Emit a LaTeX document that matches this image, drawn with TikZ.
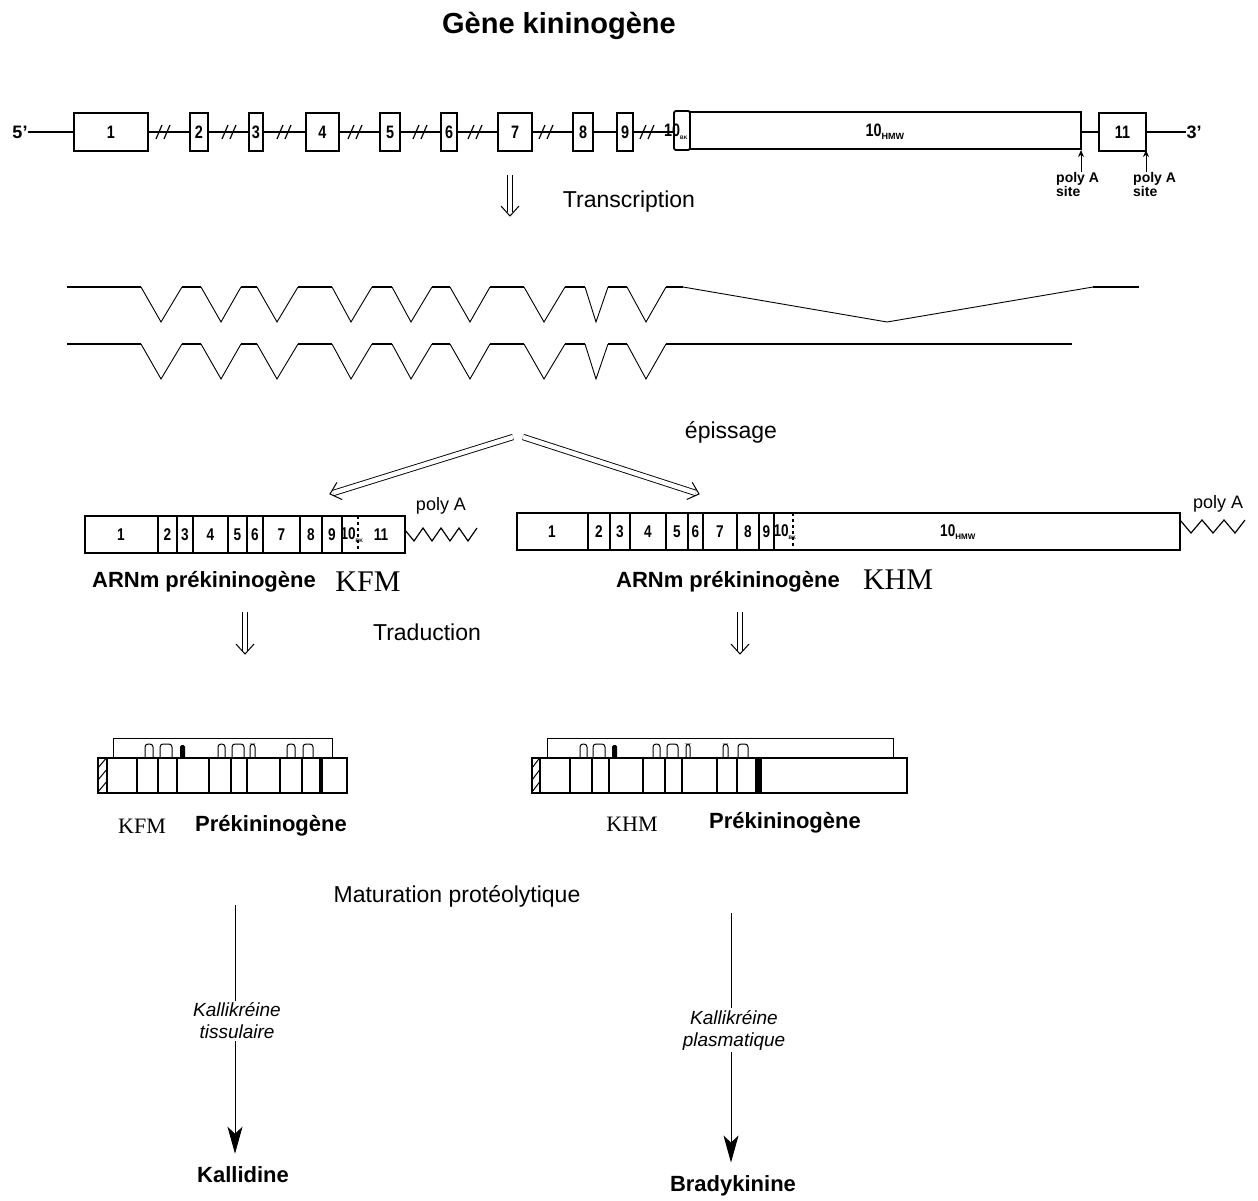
\documentclass[tikz,border=0pt]{standalone}
\usepackage{fontspec}
\setmainfont{Liberation Sans}
\newfontfamily\seriffont{Liberation Serif}
\usepackage{graphicx}
\usetikzlibrary{arrows.meta,calc}
\newcommand\exn[1]{\scalebox{0.8}[1]{#1}}
\newcommand\darrow[2]{%
  \draw[dblline] (#1) -- (#2);
  \coordinate (dback) at ($(#2)!10pt!(#1)$);
  \draw[dblhead] ($(dback)!9pt!90:(#2)$) -- (#2) -- ($(dback)!9pt!-90:(#2)$);
}
\begin{document}
\begin{tikzpicture}[x=1pt,y=-1pt,
  gline/.style={line width=1.4pt},
  gbox/.style={draw,line width=1.8pt,fill=white},
  exlab/.style={font=\fontsize{18}{18}\selectfont\bfseries,inner sep=0pt},
  mlab/.style={font=\fontsize{17}{17}\selectfont\bfseries,inner sep=0pt},
  brk/.style={line width=1.2pt},
  exon/.style={line width=2.6pt},
  intron/.style={line width=0.9pt},
  dblline/.style={double,double distance=4.5pt,line width=0.9pt,shorten >=3.5pt},
  dblhead/.style={line width=1pt,line join=miter},
  txt/.style={font=\fontsize{23}{25}\selectfont,inner sep=1pt},
  btxt/.style={font=\fontsize{22}{24}\selectfont\bfseries,inner sep=1pt},
  sertxt/.style={font=\fontsize{30}{32}\selectfont\seriffont,inner sep=1pt},
  sertxts/.style={font=\fontsize{22}{24}\selectfont\seriffont,inner sep=1pt},
  itxt/.style={font=\fontsize{19}{22}\selectfont\itshape,align=center,inner sep=2pt},
  patxt/.style={font=\fontsize{14}{13}\selectfont\bfseries,align=left,inner sep=0pt},
  polyatxt/.style={font=\fontsize{18}{18}\selectfont,inner sep=0pt},
  mbox/.style={draw,line width=1.5pt},
  mdiv/.style={line width=1.1pt},
  pbar/.style={draw,line width=1.8pt},
  pdiv/.style={line width=1.1pt},
  pbrk/.style={line width=0.9pt},
  bump/.style={line width=1pt,rounded corners=3pt},
  longarrow/.style={line width=1pt,-{Stealth[length=27pt,width=15pt,inset=7pt]}}
]
\useasboundingbox (0,0) rectangle (1258,1201);
\fill[white] (0,0) rectangle (1258,1201);

% Title
\node[font=\fontsize{29}{31}\selectfont\bfseries] (title) at (559,26) {Gène kininogène};

% ---------------- Gene row ----------------
\node[exlab] (five) at (20,132) {5'};
\node[exlab] (three) at (1194,132) {3'};
\draw[gline] (five.east) -- (three.west);
\foreach \c in {163,229,284,355,420,475,546,647}{
  \draw[brk] (\c-7,139) -- (\c-1,125);
  \draw[brk] (\c+1,139) -- (\c+7,125);
}
\foreach \a/\b/\n in {74/148/1,190/208/2,249/263/3,306/339/4,380/400/5,441/457/6,498/532/7,573/593/8,617/633/9,1099/1146/11}{
  \draw[gbox] (\a,113) rectangle (\b,151);
  \node[exlab] (g\n) at ({(\a+\b)/2},132) {\exn{\n}};
}
\draw[gbox,rounded corners=2pt] (674,111) rectangle (690,150);
\draw[gbox] (690,112) rectangle (1081,149);
\node[exlab] (g10bk) at (676,132) {\exn{10}\textsubscript{\tiny BK}};
\node[exlab] (g10hmw) at (885,132) {\exn{10}\textsubscript{\fontsize{9}{9}\selectfont HMW}};

% poly A sites
\node[patxt,anchor=north west] (pa1) at (1056,172) {poly A\\site};
\node[patxt,anchor=north west] (pa2) at (1133,172) {poly A\\site};
\coordinate (pa1top) at (1081,150);
\coordinate (pa2top) at (1146,150);
\draw[line width=1pt,-{Stealth[length=7pt,width=6pt]}] (pa1.north -| pa1top) -- (pa1top);
\draw[line width=1pt,-{Stealth[length=7pt,width=6pt]}] (pa2.north -| pa2top) -- (pa2top);

% Transcription
\coordinate (tr1) at (510,175);
\coordinate (tr2) at (510,216);
\darrow{tr1}{tr2}
\node[txt] (transcr) at (629,202) {Transcription};

% ---------------- Splicing schemes ----------------
\foreach \a/\m/\b in {141/161/182,201/221/241,257/277/298,332/351/372,392/411/432,450/470/490,524/544/565,585/596/608,627/646/666}{
  \draw[intron] (\a,287) -- (\m,322) -- (\b,287);
  \draw[intron] (\a,344) -- (\m,379) -- (\b,344);
}
\foreach \a/\b in {67/141,182/201,241/257,298/332,372/392,432/450,490/524,565/585,608/627,666/683}{
  \draw[exon] (\a,287) -- (\b,287);
}
\foreach \a/\b in {67/141,182/201,241/257,298/332,372/392,432/450,490/524,565/585,608/627,666/1072}{
  \draw[exon] (\a,344) -- (\b,344);
}
\draw[intron] (683,287) -- (887,322) -- (1093,287);
\draw[exon] (1093,287) -- (1139,287);

% epissage
\coordinate (apL) at (513,437);
\coordinate (apR) at (523,437);
\coordinate (epL) at (330,494);
\coordinate (epR) at (699,494);
\darrow{apL}{epL}
\darrow{apR}{epR}
\node[txt] (episs) at (731,432) {épissage};

% ---------------- mRNA left (KFM) ----------------
\draw[mbox] (85,516) rectangle (405,553);
\foreach \x in {158,177,193,228,247,263,300,322,342}{
  \draw[mdiv] (\x,516) -- (\x,553);
}
\draw[mdiv,dashed] (358,516) -- (358,553);
\foreach \x/\n in {121/1,167.5/2,185/3,210.5/4,237.5/5,255/6,281.5/7,311/8,332/9,381/11}{
  \node[mlab] (ml\n) at (\x,535) {\exn{\n}};
}
\node[mlab] (ml10) at (352,535) {\exn{10}\textsubscript{\tiny BK}};
\draw[line width=1.2pt] (405,530) -- (414,541) -- (423,528) -- (432,541) -- (441,528) -- (450,541) -- (459,528) -- (468,541) -- (477,528);
\node[polyatxt] (polyL) at (441,506) {poly A};
\node[btxt] (arnL) at (204,582) {ARNm prékininogène};
\node[sertxt] (kfm1) at (368,582) {KFM};

% ---------------- mRNA right (KHM) ----------------
\draw[mbox] (517,513) rectangle (1180,550);
\foreach \x in {588,610,630,666,688,703,737,759,774}{
  \draw[mdiv] (\x,513) -- (\x,550);
}
\draw[mdiv,dashed] (793,513) -- (793,550);
\foreach \x/\n in {552/1,599/2,620/3,648/4,677/5,695.5/6,720/7,748/8,766.5/9}{
  \node[mlab] (mr\n) at (\x,532) {\exn{\n}};
}
\node[mlab] (mr10) at (785,532) {\exn{10}\textsubscript{\tiny BK}};
\node[mlab] (mr10h) at (958,532) {\exn{10}\textsubscript{\fontsize{8}{8}\selectfont HMW}};
\draw[line width=1.2pt] (1180,520) -- (1191,533) -- (1202,520) -- (1213,533) -- (1224,520) -- (1235,533) -- (1245,520);
\node[polyatxt] (polyR) at (1218,504) {poly A};
\node[btxt] (arnR) at (728,582) {ARNm prékininogène};
\node[sertxt] (khm1) at (898,580) {KHM};

% Traduction
\coordinate (tl1) at (245,612);
\coordinate (tl2) at (245,654);
\coordinate (tr3) at (740,612);
\coordinate (tr4) at (740,654);
\darrow{tl1}{tl2}
\darrow{tr3}{tr4}
\node[txt] (trad) at (427,632) {Traduction};

% ---------------- Protein left (KFM) ----------------
\begin{scope}
  \clip (98,758) rectangle (107,793);
  \foreach \y in {768,780,792,804}{\draw[line width=1pt] (98,\y) -- (108,\y-12);}
\end{scope}
\draw[pbrk] (113,758) -- (113,738) -- (332,738) -- (332,758);
\foreach \a/\b in {145/153,160/172,218/225,232/244,250/255,287/295,303/313}{
  \draw[bump,fill=white] (\a,758) -- (\a,744) -- (\b,744) -- (\b,758);
}
\fill[rounded corners=1.5pt] (180,758) -- (180,745) -- (185,745) -- (185,758) -- cycle;
\draw[pbar] (98,758) rectangle (347,793);
\foreach \x in {107,137,158,177,209,231,247,280,302}{
  \draw[pdiv] (\x,758) -- (\x,793);
}
\draw[line width=3.5pt] (321,758) -- (321,793);
\node[sertxts] (kfm2) at (142,826) {KFM};
\node[btxt] (protL) at (271,826) {Prékininogène};

% ---------------- Protein right (KHM) ----------------
\begin{scope}
  \clip (532,758) rectangle (540,793);
  \foreach \y in {768,780,792,804}{\draw[line width=1pt] (532,\y) -- (541,\y-12);}
\end{scope}
\draw[pbrk] (547,758) -- (547,738) -- (893,738) -- (893,758);
\foreach \a/\b in {580/587,593/605,653/660,667/678,686/690,723/728,738/748}{
  \draw[bump,fill=white] (\a,758) -- (\a,744) -- (\b,744) -- (\b,758);
}
\fill[rounded corners=1.5pt] (612,758) -- (612,745) -- (617,745) -- (617,758) -- cycle;
\draw[pbar] (532,758) rectangle (907,793);
\foreach \x in {540,570,592,609,643,665,682,717,737}{
  \draw[pdiv] (\x,758) -- (\x,793);
}
\fill (755,758) rectangle (762,793);
\node[sertxts] (khm2) at (632,824) {KHM};
\node[btxt] (protR) at (785,823) {Prékininogène};

% ---------------- Maturation ----------------
\node[txt] (matur) at (457,896) {Maturation protéolytique};

\coordinate (k1) at (235,905);
\node[itxt] (kt) at (237,1021) {Kallikréine\\tissulaire};
\node[btxt] (kallidine) at (243,1175) {Kallidine};
\draw[line width=1pt] (k1) -- (kt.north -| k1);
\draw[longarrow,shorten >=12pt] (kt.south -| k1) -- (kallidine.north -| k1);

\coordinate (b1) at (731,913);
\node[itxt] (kp) at (734,1030) {Kallikréine\\plasmatique};
\node[btxt] (brady) at (733,1186) {Bradykinine};
\draw[line width=1pt] (b1) -- (kp.north -| b1);
\draw[longarrow,shorten >=12pt] (kp.south -| b1) -- (brady.north -| b1);

\end{tikzpicture}
\end{document}
